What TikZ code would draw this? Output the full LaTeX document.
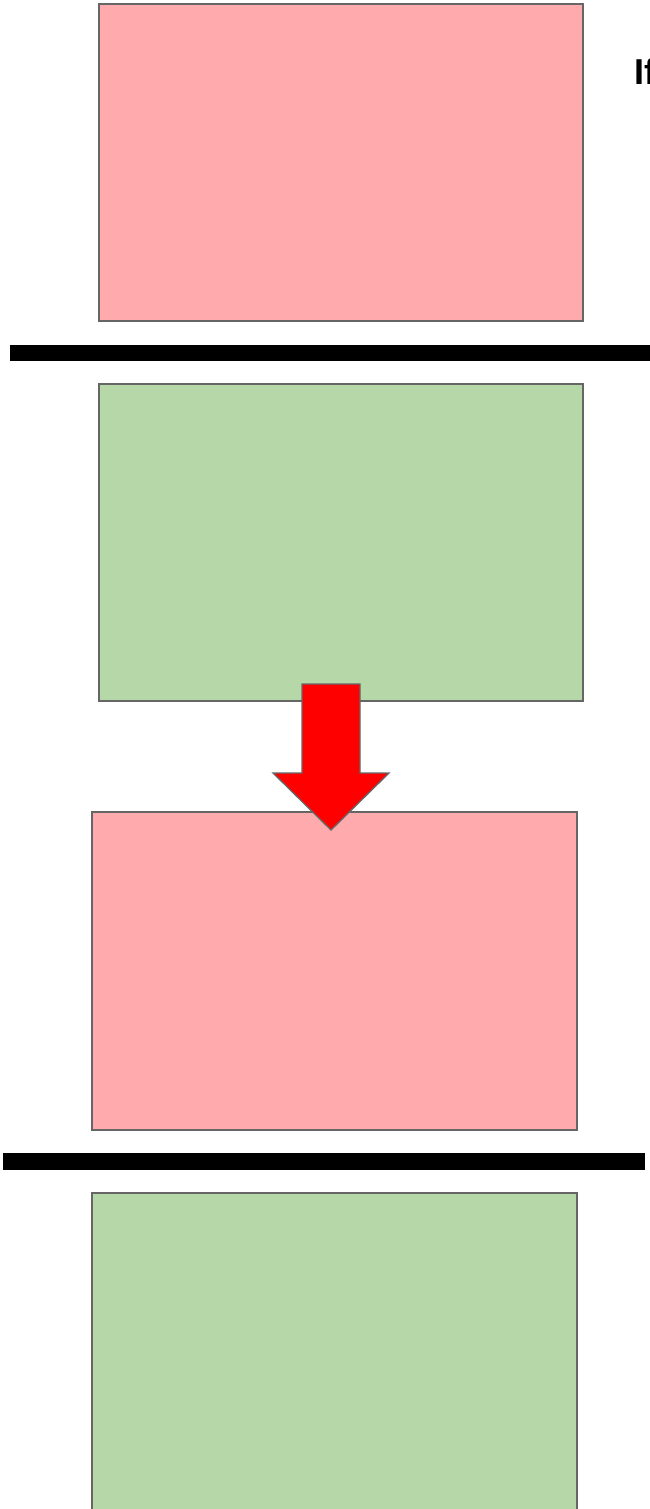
\documentclass[tikz,border=0pt]{standalone}
\usepackage{fontspec}
\setmainfont{Liberation Sans}
\usepackage{tikz}
\usetikzlibrary{positioning}
\definecolor{boxpink}{HTML}{FFABAD}
\definecolor{boxgreen}{HTML}{B6D7A8}
\definecolor{boxedge}{HTML}{666666}

\begin{document}
\begin{tikzpicture}[x=1pt,y=-1pt]
      \tikzset{panel/.style = {shape=rectangle,draw=boxedge,line width=1.3pt,inner sep=0pt,minimum width=484pt,minimum height=317pt}}
      \tikzset{bar/.style = {fill=black}}
      \useasboundingbox (0,0) rectangle (650,1509);

      \node[panel,fill=boxpink] (p1) at (341, 162.5) {};
      \node[panel,fill=boxgreen] (g1) at (341, 542.5) {};
      \node[panel,fill=boxpink,minimum width=485pt,minimum height=318pt] (p2) at (334.5, 971) {};
      \node[panel,fill=boxgreen,minimum width=485pt,minimum height=330pt] (g2) at (334.5, 1358) {};

      \fill[bar] (10,345) rectangle (660,361);
      \fill[bar] (3,1153) rectangle (645,1170);

      \node[anchor=base west,inner sep=0pt,font=\bfseries\fontsize{36}{40}\selectfont] (cond) at (634, 85) {If};

      % block arrow from g1 into p2
      \draw[boxedge,line width=1.3pt,fill=red,line join=miter]
        (302,684) -- (360,684) -- (360,773) -- (389,773) -- (331,830)
        -- (273,773) -- (302,773) -- cycle;
\end{tikzpicture}
\end{document}
